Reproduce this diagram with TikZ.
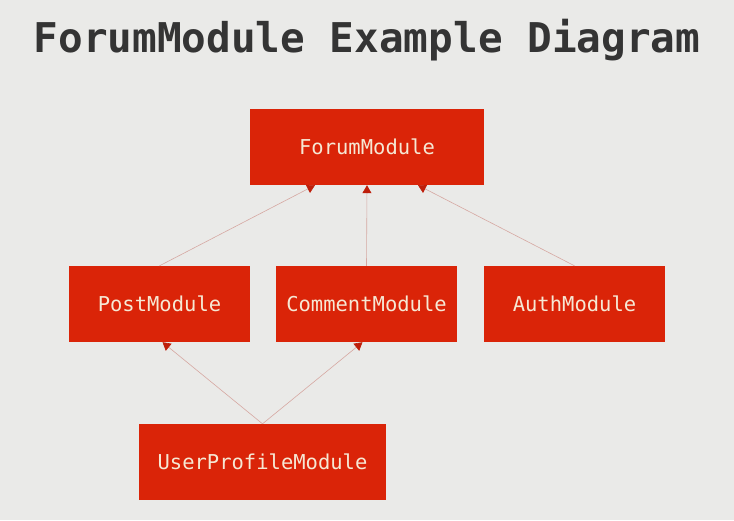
\documentclass[tikz,border=0pt]{standalone}
\usepackage{fontspec}
\setmonofont{DejaVu Sans Mono}
\usetikzlibrary{arrows.meta}
\definecolor{bg}{RGB}{234,234,232}
\definecolor{boxred}{RGB}{218,36,8}
\definecolor{boxtext}{RGB}{246,232,212}
\definecolor{titlecol}{RGB}{52,52,52}
\definecolor{linecol}{RGB}{214,168,162}
\definecolor{tipcol}{RGB}{190,30,10}
\tikzset{
  modbox/.style={fill=boxred, draw=none, minimum width=181pt, minimum height=76pt,
    inner sep=0pt, text=boxtext, font=\ttfamily\fontsize{20.5}{24}\selectfont},
  dep/.style={draw=linecol, line width=0.6pt,
    -{Triangle[width=9pt,length=8pt,fill=tipcol,color=tipcol]}}
}
\begin{document}
\begin{tikzpicture}[x=1pt,y=-1pt]
\fill[bg] (0,0) rectangle (734,520);
\useasboundingbox (0,0) rectangle (734,520);
\node[text=titlecol, font=\ttfamily\bfseries\fontsize{41}{48}\selectfont] (title) at (367,40) {ForumModule Example Diagram};
\node[modbox, minimum width=234pt] (forum) at (367,147) {ForumModule};
\node[modbox] (post) at (159.5,304) {PostModule};
\node[modbox] (comment) at (366.5,304) {CommentModule};
\node[modbox] (auth) at (574.5,304) {AuthModule};
\node[modbox, minimum width=247pt] (user) at (262.5,462) {UserProfileModule};
\draw[dep] (post.north) -- ([xshift=-52pt]forum.south);
\draw[dep] (comment.north) -- (forum.south);
\draw[dep] (auth.north) -- ([xshift=51pt]forum.south);
\draw[dep] (user.north) -- ([xshift=3pt]post.south);
\draw[dep] (user.north) -- ([xshift=-4pt]comment.south);
\end{tikzpicture}
\end{document}
